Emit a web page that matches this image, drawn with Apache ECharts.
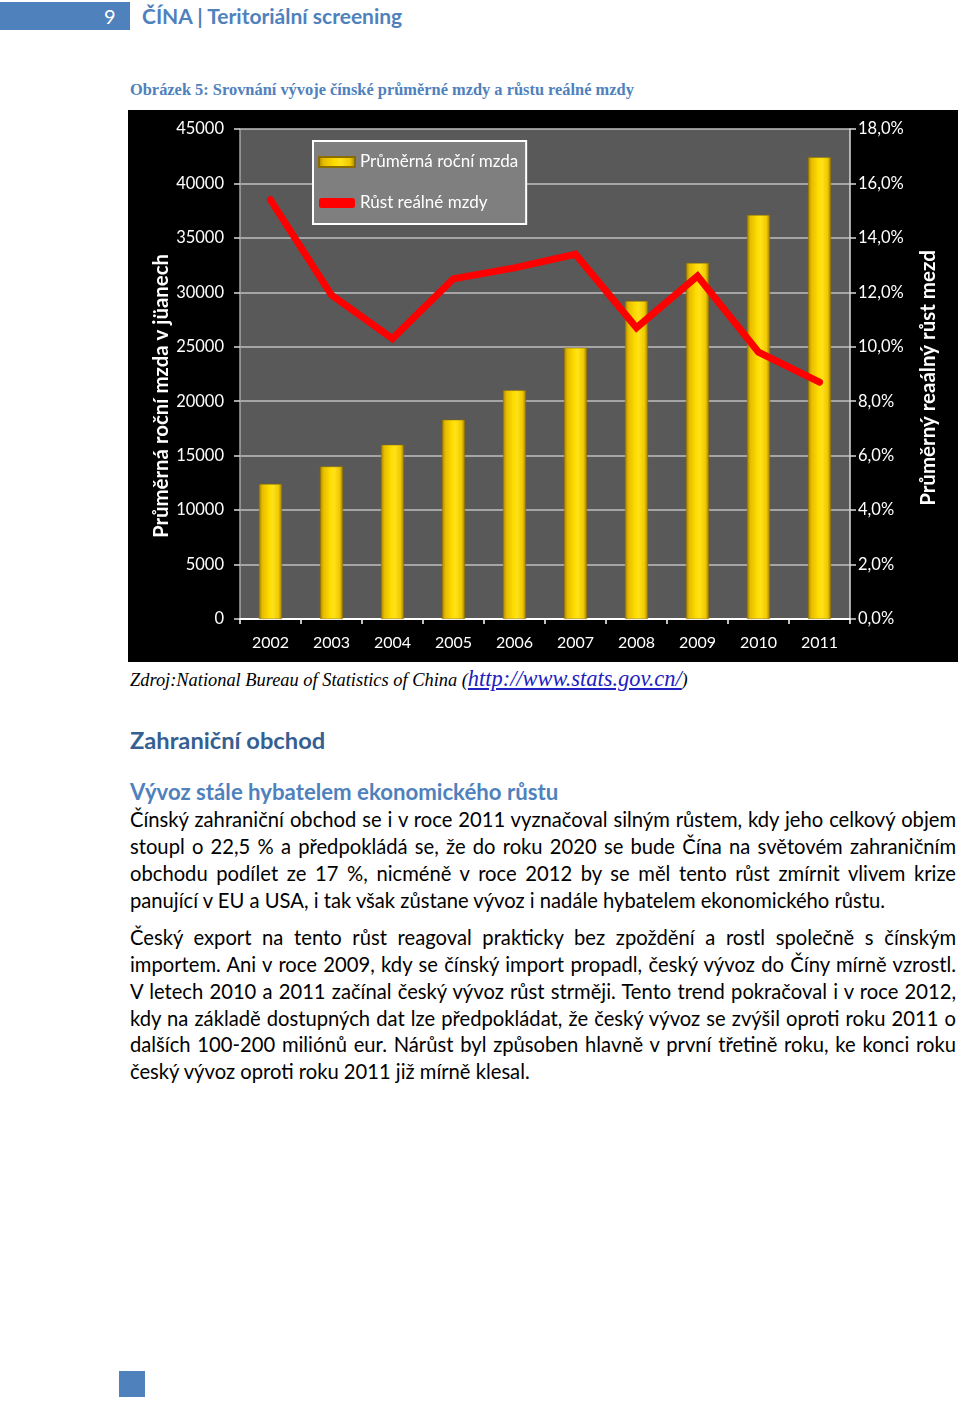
<!DOCTYPE html>
<html><head><meta charset="utf-8">
<script src="https://cdn.jsdelivr.net/npm/echarts@6/dist/echarts.min.js"></script>
<style>
html,body{margin:0;padding:0;background:#fff;}
body{width:960px;height:1402px;position:relative;overflow:hidden;font-family:Lato,"Open Sans",sans-serif;}
.abs{position:absolute;white-space:nowrap;}
.ln{position:absolute;left:130px;width:826px;font-size:20.2px;line-height:27px;color:#000;white-space:nowrap;}
.j{text-align:justify;text-align-last:justify;white-space:normal;}
</style></head>
<body>
<div class="abs" style="left:0;top:2px;width:130px;height:28px;background:#4f81bd;"></div>
<div class="abs" style="left:104px;top:3px;color:#fff;font-size:20px;line-height:26px;">9</div>
<div class="abs" style="left:142px;top:3px;color:#4f81bd;font-size:21px;font-weight:bold;line-height:26px;">ČÍNA | Teritoriální screening</div>
<div class="abs" style="left:130px;top:80px;color:#4f81bd;font-family:'Liberation Serif',serif;font-weight:bold;font-size:16.4px;line-height:20px;">Obrázek 5: Srovnání vývoje čínské průměrné mzdy a růstu reálné mzdy</div>
<div id="chart" style="position:absolute;left:128px;top:110px;width:830px;height:552px;background:#000;"></div>
<div class="abs" style="left:130px;top:666px;font-family:'Liberation Serif',serif;font-style:italic;font-size:18.4px;line-height:26px;color:#000;">Zdroj:National Bureau of Statistics of China (<span style="color:#2020c0;text-decoration:underline;font-size:22.4px;">http://www.stats.gov.cn/</span>)</div>
<div class="abs" style="left:130px;top:725px;color:#365f91;font-size:23.7px;font-weight:bold;line-height:30px;">Zahraniční obchod</div>
<div class="abs" style="left:130px;top:778px;color:#4f81bd;font-size:22.2px;font-weight:bold;line-height:28px;">Vývoz stále hybatelem ekonomického růstu</div>
<div class="ln j" style="top:806px;">Čínský zahraniční obchod se i v roce 2011 vyznačoval silným růstem, kdy jeho celkový objem</div>
<div class="ln j" style="top:833px;">stoupl o 22,5 % a předpokládá se, že do roku 2020 se bude Čína na světovém zahraničním</div>
<div class="ln j" style="top:860px;">obchodu podílet ze 17 %, nicméně v roce 2012 by se měl tento růst zmírnit vlivem krize</div>
<div class="ln" style="top:887px;">panující v EU a USA, i tak však zůstane vývoz i nadále hybatelem ekonomického růstu.</div>
<div class="ln j" style="top:924px;">Český export na tento růst reagoval prakticky bez zpoždění a rostl společně s čínským</div>
<div class="ln j" style="top:951px;">importem. Ani v roce 2009, kdy se čínský import propadl, český vývoz do Číny mírně vzrostl.</div>
<div class="ln j" style="top:978px;">V letech 2010 a 2011 začínal český vývoz růst strměji. Tento trend pokračoval i v roce 2012,</div>
<div class="ln j" style="top:1005px;">kdy na základě dostupných dat lze předpokládat, že český vývoz se zvýšil oproti roku 2011 o</div>
<div class="ln j" style="top:1031px;">dalších 100-200 miliónů eur. Nárůst byl způsoben hlavně v první třetině roku, ke konci roku</div>
<div class="ln" style="top:1058px;">český vývoz oproti roku 2011 již mírně klesal.</div>
<div class="abs" style="left:119px;top:1371px;width:26px;height:26px;background:#4f81bd;"></div>
<script>
const years = ['2002','2003','2004','2005','2006','2007','2008','2009','2010','2011'];
const avgWage = [12400, 14000, 16000, 18300, 21000, 24900, 29200, 32700, 37100, 42400];
const realGrowth = [15.4, 11.9, 10.3, 12.5, 12.9, 13.4, 10.7, 12.6, 9.8, 8.7];
const seriesNames = ['Průměrná roční mzda', 'Růst reálné mzdy'];
const leftAxisName = 'Průměrná roční mzda v jüanech';
const rightAxisName = 'Průměrný reaálný růst mezd';

const chart = echarts.init(document.getElementById('chart'), null, {renderer:'canvas'});
const FONT = 'Lato';
chart.setOption({
  backgroundColor: '#000',
  animation: false,
  textStyle: {fontFamily: FONT},
  grid: {left: 112, right: 108, top: 19, bottom: 43, show: true, backgroundColor: '#595959', borderWidth: 0},
  legend: {
    orient: 'vertical', left: 185, top: 31,
    backgroundColor: '#7f7f7f', borderColor: '#ffffff', borderWidth: 2,
    padding: [11, 8, 11, 5], itemGap: 21, itemWidth: 36, itemHeight: 10,
    textStyle: {color: '#fff', fontSize: 17, lineHeight: 20, fontFamily: FONT},
    data: [{name: seriesNames[0], icon: 'rect'}, {name: seriesNames[1], icon: 'roundRect', itemStyle: {color: '#ff0000'}}]
  },
  xAxis: {
    type: 'category', data: years,
    axisLine: {lineStyle: {color: '#ffffff', width: 2}},
    axisTick: {show: true, length: 5, lineStyle: {color: '#ffffff', width: 1.5}},
    axisLabel: {color: '#fff', fontSize: 16, margin: 16, fontFamily: FONT}
  },
  yAxis: [{
    type: 'value', min: 0, max: 45000, interval: 5000,
    name: leftAxisName, nameLocation: 'middle', nameGap: 69, nameMoveOverlap: false,
    nameTextStyle: {color: '#fff', fontSize: 20.4, fontWeight: 'bold', fontFamily: FONT, padding: [0, 44, 0, 0]},
    axisLine: {show: true, lineStyle: {color: '#a6a6a6', width: 1.5}},
    axisTick: {show: true, length: 6, lineStyle: {color: '#d9d9d9', width: 1.5}},
    axisLabel: {color: '#fff', fontSize: 16.5, margin: 16, fontFamily: FONT, formatter: v => String(v)},
    splitLine: {show: true, lineStyle: {color: '#bfbfbf', width: 1.5}}
  }, {
    type: 'value', min: 0, max: 18, interval: 2, position: 'right',
    name: rightAxisName, nameLocation: 'middle', nameGap: 68,
    nameTextStyle: {color: '#fff', fontSize: 20.5, fontWeight: 'bold', fontFamily: FONT, padding: [0, 8, 0, 0]},
    axisLine: {show: true, lineStyle: {color: '#d9d9d9', width: 1.5}},
    axisTick: {show: true, length: 6, lineStyle: {color: '#d9d9d9', width: 1.5}},
    axisLabel: {color: '#fff', fontSize: 16.5, margin: 8, fontFamily: FONT,
      formatter: v => v.toFixed(1).replace('.', ',') + '%'},
    splitLine: {show: false}
  }],
  series: [{
    name: seriesNames[0], type: 'bar', data: avgWage, barWidth: 23, yAxisIndex: 0,
    itemStyle: {
      color: new echarts.graphic.LinearGradient(0, 0, 1, 0, [
        {offset: 0, color: '#a88400'}, {offset: 0.15, color: '#e6bd00'},
        {offset: 0.45, color: '#ffdd00'}, {offset: 0.6, color: '#ffe21a'},
        {offset: 0.85, color: '#f0c800'}, {offset: 1, color: '#9c7a00'}]),
      borderColor: '#8a6d00', borderWidth: 0.5
    }
  }, {
    name: seriesNames[1], type: 'line', data: realGrowth, yAxisIndex: 1,
    symbol: 'none', lineStyle: {color: '#ff0000', width: 7, cap: 'round', join: 'miter'},
    itemStyle: {color: '#ff0000'}, z: 5
  }]
});
</script>
</body></html>
